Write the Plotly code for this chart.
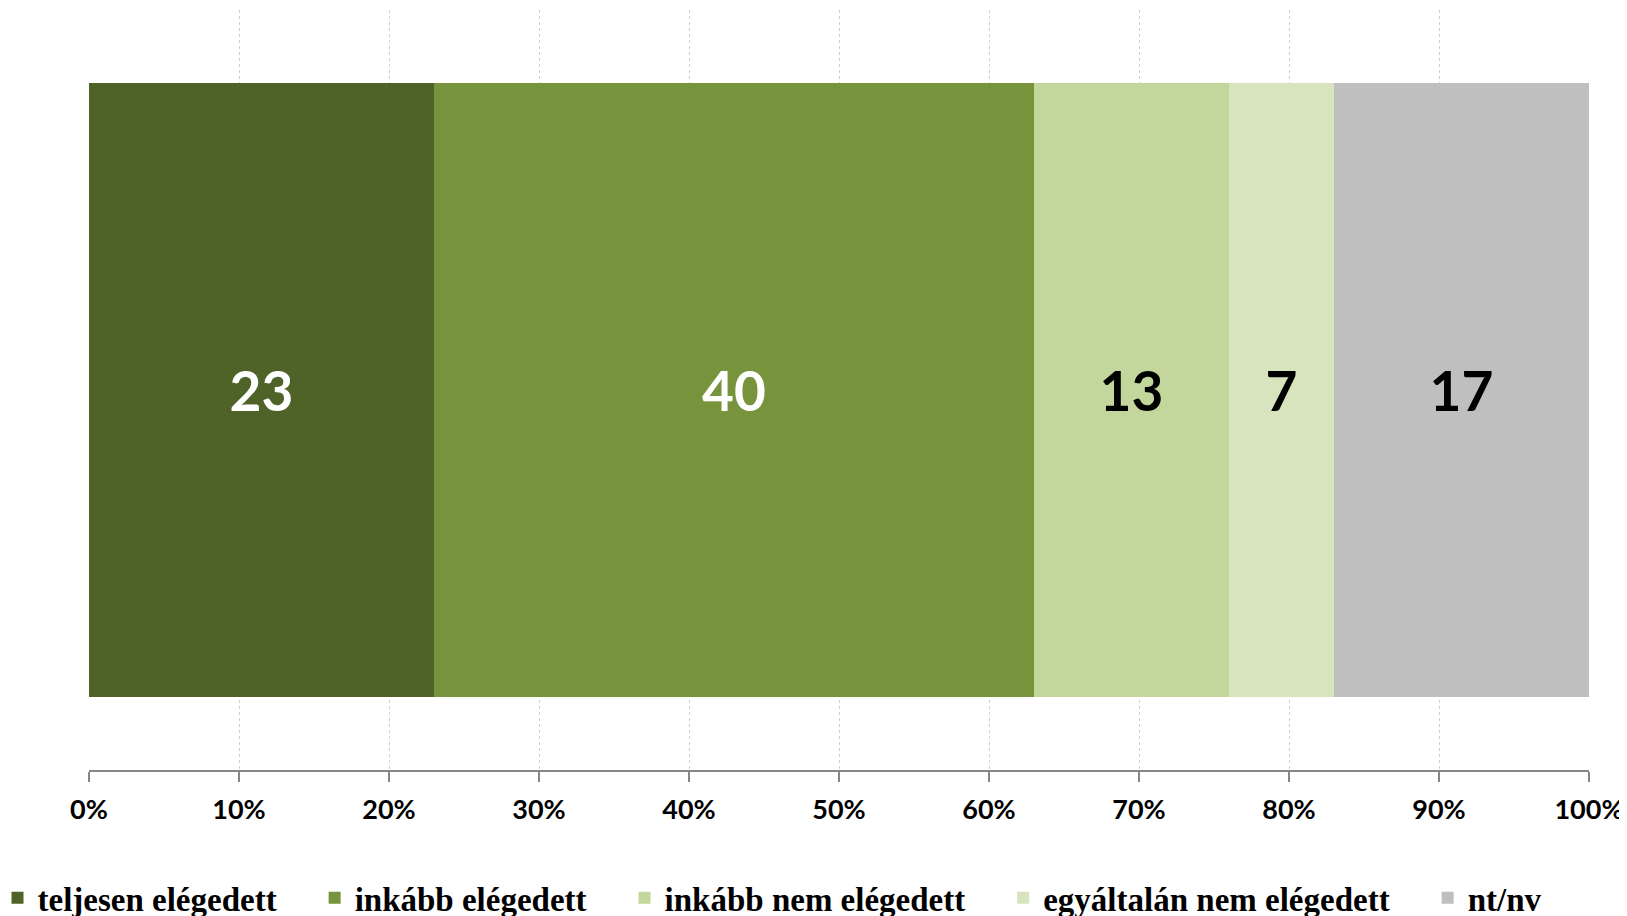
import plotly.graph_objects as go

categories = ['teljesen elégedett', 'inkább elégedett', 'inkább nem elégedett',
              'egyáltalán nem elégedett', 'nt/nv']
values = [23, 40, 13, 7, 17]
colors = ['#4F6228', '#77933C', '#C3D69B', '#D7E4BD', '#BFBFBF']
label_colors = ['white', 'white', 'black', 'black', 'black']
tick_values = [0, 10, 20, 30, 40, 50, 60, 70, 80, 90, 100]
tick_labels = ['0%', '10%', '20%', '30%', '40%', '50%', '60%', '70%', '80%', '90%', '100%']
row = [0]

fig = go.Figure()
for name, val, col, lc in zip(categories, values, colors, label_colors):
    fig.add_trace(go.Bar(
        x=[val], y=row, orientation='h',
        name=name + '\u00a0' * 4,  # extra spacing between legend entries
        marker=dict(color=col, line=dict(width=0)),
        width=0.808,
        text=[str(val)], textposition='inside', insidetextanchor='middle',
        textangle=0, constraintext='none',
        textfont=dict(family='Lato', size=55, color=lc, weight='bold'),
        hoverinfo='skip',
    ))

# page body has an 8px margin, so the figure is 8px smaller than the window
fig.update_layout(
    barmode='stack',
    width=1619, height=908,
    paper_bgcolor='white', plot_bgcolor='white',
    margin=dict(l=81, r=38, t=2, b=146, autoexpand=False),
    showlegend=True,
    legend=dict(orientation='h', x=-0.061, xanchor='left', y=-0.168, yanchor='middle',
                font=dict(family='Liberation Serif', size=33, color='black', weight='bold'),
                itemwidth=30, traceorder='normal'),
    xaxis=dict(range=[0, 100], tickmode='array', tickvals=tick_values, ticktext=tick_labels,
               showgrid=True, gridcolor='#d0d0d0', griddash='dot', gridwidth=1,
               showline=True, linecolor='#868686', linewidth=2,
               ticks='outside', ticklen=10, tickwidth=2, tickcolor='#868686',
               ticklabelstandoff=5,
               tickfont=dict(family='Lato', size=27, color='black', weight='bold'),
               zeroline=False),
    yaxis=dict(range=[-0.5, 0.5], visible=False),
)

fig.write_html("out.html")
